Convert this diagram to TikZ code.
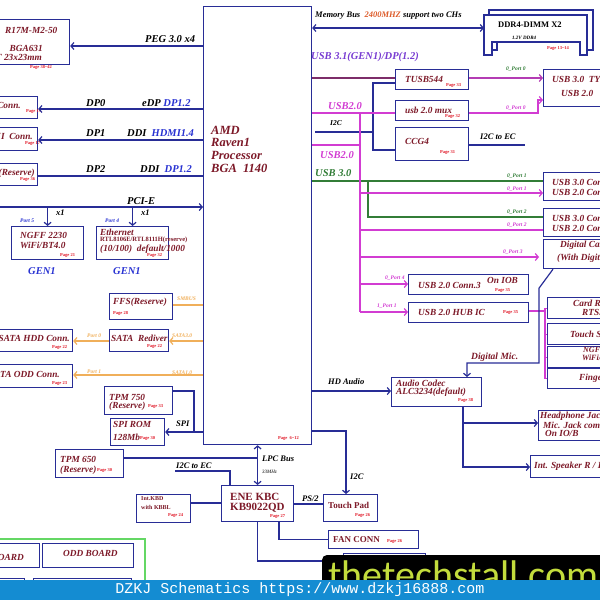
\documentclass[tikz,border=0pt]{standalone}
\usepackage{fontspec}
\setmainfont{Liberation Serif}
\newfontfamily\footfont{Liberation Mono}
\newfontfamily\logofont{Carlito}
\usetikzlibrary{positioning,arrows.meta}
\definecolor{navy}{RGB}{40,45,150}
\definecolor{boxtext}{RGB}{125,25,40}
\definecolor{pagered}{RGB}{225,25,40}
\definecolor{usbmag}{RGB}{210,60,210}
\definecolor{usbgreen}{RGB}{50,125,55}
\definecolor{sataorange}{RGB}{240,175,90}
\definecolor{labblue}{RGB}{40,50,210}
\definecolor{usbviolet}{RGB}{120,60,210}
\definecolor{tusbline}{RGB}{125,45,105}
\definecolor{tusbmag}{RGB}{180,60,180}
\definecolor{memred}{RGB}{220,90,40}
\definecolor{footblue}{RGB}{20,140,210}
\definecolor{logogreen}{RGB}{195,220,60}
\definecolor{boardgreen}{RGB}{100,215,100}

\begin{document}
\begin{tikzpicture}[x=1pt, y=-1pt,
  every node/.style={inner sep=0pt},
  blk/.style={draw=navy, line width=1.2pt, anchor=north west, fill=white},
  bt/.style={anchor=west, text=boxtext, font=\fontsize{9.3}{10}\selectfont\bfseries\itshape},
  bu/.style={anchor=west, text=boxtext, font=\fontsize{9}{10}\selectfont\bfseries},
  pg/.style={anchor=west, text=pagered, font=\fontsize{4.5}{5}\selectfont\bfseries},
  lab/.style={anchor=west, font=\fontsize{10.5}{11}\selectfont\bfseries\itshape},
  slab/.style={anchor=west, font=\fontsize{8.5}{9}\selectfont\bfseries\itshape},
  port/.style={anchor=west, font=\fontsize{5.5}{6}\selectfont\bfseries\itshape},
  bus/.style={draw=navy, line width=1.2pt},
  mag/.style={draw=usbmag, line width=1.2pt},
  grn/.style={draw=usbgreen, line width=1.2pt},
  sata/.style={draw=sataorange, line width=1.2pt},
  arr/.style={-{Straight Barb[length=3pt,width=7pt]}},
  darr/.style={{Straight Barb[length=3pt,width=7pt]}-{Straight Barb[length=3pt,width=7pt]}}]
\useasboundingbox (0,0) rectangle (600,600);

% processor
\node[blk, minimum width=108, minimum height=438] (cpu) at (203,6) {};
\node[bt, align=left, font=\fontsize{12.5}{12.7}\selectfont\bfseries\itshape] (cpuname) at (211,149) {AMD\\Raven1\\Processor\\BGA\ \ 1140};
\node[pg] (cpupg) at (278,439) {Page\ \ 6\textasciitilde12};

% graphics and display
\node[blk, minimum width=89, minimum height=45] (gpu) at (-20,19) {};
\node[bt] (gpuname) at (5,30) {R17M-M2-50};
\node[bt, anchor=east] (gpupkg) at (43,48) {BGA631};
\node[bt, anchor=east] (gpusize) at (42,57) {T 23x23mm};
\node[pg] (gpupg) at (30,67) {Page 38\textasciitilde42};
\node[blk, minimum width=57, minimum height=22] (edp) at (-20,96) {};
\node[bt, anchor=east] (edpname) at (21,105) {eDP Conn.};
\node[pg] (edppg) at (26,112) {Page 19};
\node[blk, minimum width=57, minimum height=23] (hdmi) at (-20,127) {};
\node[bt, anchor=east] (hdminame) at (33,136) {HDMI\ \ Conn.};
\node[pg] (hdmipg) at (25,144) {Page 17};
\node[blk, minimum width=57, minimum height=22] (dpres) at (-20,163) {};
\node[bt, anchor=east] (dpresname) at (35,173) {(Reserve)};
\node[pg] (dprespg) at (20,180) {Page 36};

\draw[bus,arr] (cpu.west |- 0,46) -- (gpu.east |- 0,46);
\draw[bus,arr] (cpu.west |- 0,109) -- (edp.east |- 0,109);
\draw[bus,arr] (cpu.west |- 0,140) -- (hdmi.east |- 0,140);
\draw[bus] (cpu.west |- 0,176) -- (dpres.east |- 0,176);
\node[lab] (peg) at (145,39) {PEG 3.0 x4};
\node[lab] (dp0) at (86,103) {DP0};
\node[lab] (edpbus) at (142,103) {eDP \textcolor{labblue}{DP1.2}};
\node[lab] (dp1) at (86,133) {DP1};
\node[lab] (ddia) at (127,133) {DDI\ \ \textcolor{labblue}{HDMI1.4}};
\node[lab] (dp2) at (86,169) {DP2};
\node[lab] (ddib) at (140,169) {DDI\ \ \textcolor{labblue}{DP1.2}};

% pci-e
\coordinate (pcie) at (0,207);
\node[blk, minimum width=72, minimum height=33] (ngff) at (11,226) {};
\node[blk, minimum width=72, minimum height=33] (lan) at (96,226) {};
\draw[bus,arr] (pcie) -- (pcie -| cpu.west);
\draw[bus,arr] (ngff.north |- pcie) -- (ngff.north);
\draw[bus,arr] (lan.north |- pcie) -- (lan.north);
\node[lab] (pcielab) at (127,201) {PCI-E};
\node[slab] (x1a) at (56,213) {x1};
\node[slab] (x1b) at (141,213) {x1};
\node[port, text=labblue] (port5) at (20,221) {Port 5};
\node[port, text=labblue] (port4) at (105,221) {Port 4};
\node[bt] (ngffname) at (20,235) {NGFF 2230};
\node[bt] (ngffwifi) at (20,245) {WiFi/BT4.0};
\node[pg] (ngffpg) at (60,256) {Page 21};
\node[bt] (lanname) at (100,232) {Ethernet};
\node[anchor=west, text=boxtext, font=\fontsize{6.5}{7}\selectfont\bfseries] (lanchip) at (100,240) {RTL8106E/RTL8111H(reserve)};
\node[bt] (lanspeed) at (100,249) {(10/100)\ \ default/1000};
\node[pg] (lanpg) at (147,256) {Page 32};
\node[lab, text=labblue] (gena) at (28,271) {GEN1};
\node[lab, text=labblue] (genb) at (113,271) {GEN1};

% smbus and sata
\node[blk, minimum width=63, minimum height=26] (ffs) at (109,293) {};
\node[bt] (ffsname) at (113,302) {FFS(Reserve)};
\node[pg] (ffspg) at (113,313) {Page 28};
\draw[sata] (ffs.east |- 0,305) -- (cpu.west |- 0,305);
\node[port, text=sataorange] (smbus) at (177,299) {SMBUS};
\node[blk, minimum width=59, minimum height=22] (redrv) at (109,329) {};
\node[bt] (redrvname) at (111,338) {SATA\ \ Rediver};
\node[pg] (redrvpg) at (147,347) {Page 22};
\node[blk, minimum width=92, minimum height=22] (hdd) at (-20,329) {};
\node[bt, anchor=east] (hddname) at (70,338) {SATA HDD Conn.};
\node[pg] (hddpg) at (52,348) {Page 22};
\node[blk, minimum width=92, minimum height=23] (odd) at (-20,364) {};
\node[bt, anchor=east] (oddname) at (60,374) {SATA ODD Conn.};
\node[pg] (oddpg) at (52,384) {Page 23};
\draw[sata,arr] (cpu.west |- 0,341) -- (redrv.east |- 0,341);
\draw[sata,arr] (redrv.west |- 0,341) -- (hdd.east |- 0,341);
\draw[sata,arr] (cpu.west |- 0,375) -- (odd.east |- 0,375);
\node[port, text=sataorange] (satathree) at (172,336) {SATA3.0};
\node[port, text=sataorange] (portzero) at (87,336) {Port 0};
\node[port, text=sataorange] (portone) at (87,372) {Port 1};
\node[port, text=sataorange] (sataone) at (172,373) {SATA1.0};

% spi and tpm
\node[blk, minimum width=68, minimum height=28] (tpma) at (104,386) {};
\node[bt] (tpmaname) at (109,397) {TPM 750};
\node[bt] (tpmares) at (109,406) {(Reserve)};
\node[pg] (tpmapg) at (148,407) {Page 33};
\node[blk, minimum width=54, minimum height=27] (spirom) at (110,418) {};
\node[bt] (spiname) at (113,424) {SPI ROM};
\node[bt] (spisize) at (113,437) {128Mb};
\node[pg] (spipg) at (140,438) {Page 30};
\draw[bus,arr] (cpu.west |- 0,432) -- (spirom.east |- 0,432);
\draw[bus] (tpma.east |- 0,391) -| (194,432);
\node[slab] (spilab) at (176,424) {SPI};
\node[blk, minimum width=68, minimum height=28] (tpmb) at (55,449) {};
\node[bt] (tpmbname) at (60,459) {TPM 650};
\node[bt] (tpmbres) at (60,470) {(Reserve)};
\node[pg] (tpmbpg) at (97,470) {Page 30};

% embedded controller
\node[blk, minimum width=72, minimum height=36] (kbc) at (221,485) {};
\node[bu, font=\fontsize{11}{11}\selectfont\bfseries] (kbcname) at (230,497) {ENE KBC};
\node[bu, font=\fontsize{11}{11}\selectfont\bfseries] (kbcchip) at (230,508) {KB9022QD};
\node[pg] (kbcpg) at (270,516) {Page 27};
\draw[bus,darr] (kbc.north |- cpu.south) -- (kbc.north);
\draw[bus] (tpmb.east |- 0,458) -- (kbc.north |- 0,458);
\node[slab] (lpc) at (262,459) {LPC Bus};
\node[port, font=\fontsize{5}{5}\selectfont\itshape] (lpcclk) at (262,472) {33MHz};
\coordinate (kbcec) at (175,471);
\draw[bus] (kbcec) -| (kbc.north -| 230,0);
\node[slab] (kbceclab) at (176,466) {I2C to EC};
\node[blk, minimum width=54, minimum height=28] (kbd) at (136,494) {};
\node[bu, font=\fontsize{6}{6}\selectfont\bfseries] (kbdname) at (141,499) {Int.KBD};
\node[bu, font=\fontsize{6}{6}\selectfont\bfseries] (kbdlight) at (141,507) {with KBBL};
\node[pg] (kbdpg) at (168,515) {Page 24};
\draw[bus] (kbd.east |- 0,503) -- (kbc.west |- 0,503);
\node[blk, minimum width=54, minimum height=27] (tpad) at (323,494) {};
\node[bu] (tpadname) at (328,505) {Touch Pad};
\node[pg] (tpadpg) at (355,515) {Page 26};
\draw[bus] (kbc.east |- 0,504) -- (tpad.west |- 0,504);
\node[slab] (ps2) at (302,499) {PS/2};
\draw[bus,arr] (cpu.east |- 0,431) -| (tpad.north -| 346,0);
\node[slab] (i2ctp) at (350,477) {I2C};
\node[blk, minimum width=90, minimum height=18] (fan) at (328,530) {};
\node[bu] (fanname) at (333,540) {FAN CONN};
\node[pg] (fanpg) at (387,541) {Page 26};
\draw[bus] (kbc.south -| 279,0) |- (fan.west);
\node[blk, minimum width=82, minimum height=40] (kbcmore) at (343,553) {};
\draw[bus] (kbc.south) |- (kbcmore.west |- 0,561);

% boards
\draw[boardgreen, line width=1.5pt] (-10,539) rectangle (145,620);
\node[blk, minimum width=59, minimum height=24] (ioboard) at (-20,543) {};
\node[bt, anchor=east] (ioboardname) at (24,557) {IO BOARD};
\node[blk, minimum width=91, minimum height=24] (oddboard) at (42,543) {};
\node[bt] (oddboardname) at (63,553) {ODD BOARD};
\node[blk, minimum width=44, minimum height=25] (boarda) at (-20,578) {};
\node[blk, minimum width=98, minimum height=25] (boardb) at (33,578) {};

% memory
\node[anchor=north west, minimum width=103, minimum height=40] (dimm) at (484,15) {};
\draw[bus, fill=white] (489,10) -- (593,10) -- (593,50) -- (585,50) -- (585,37) -- (497,37) -- (497,50) -- (489,50) -- cycle;
\draw[bus, fill=white] (484,15) -- (587,15) -- (587,55) -- (580,55) -- (580,42) -- (492,42) -- (492,55) -- (484,55) -- cycle;
\node[anchor=west, font=\fontsize{8.5}{9}\selectfont\bfseries] (dimmname) at (498,25) {DDR4-DIMM X2};
\node[anchor=west, font=\fontsize{5}{5}\selectfont\bfseries\itshape] (dimmvolt) at (512,38) {1.2V DDR4};
\node[pg] (dimmpg) at (547,49) {Page 13\textasciitilde14};
\draw[bus,darr] (cpu.east |- 0,28) -- (dimm.west |- 0,28);
\node[anchor=west, font=\fontsize{8.5}{9}\selectfont\bfseries\itshape] (membus) at (315,16) {Memory Bus\ \ \textcolor{memred}{2400MHZ} support two CHs};

% type-c
\node[lab, text=usbviolet] (usbtc) at (311,57) {USB 3.1(GEN1)/DP(1.2)};
\node[blk, minimum width=73, minimum height=20] (tusb) at (395,69) {};
\node[bt] (tusbname) at (405,79) {TUSB544};
\node[pg] (tusbpg) at (446,86) {Page 33};
\node[blk, minimum width=73, minimum height=20] (mux) at (395,100) {};
\node[bt] (muxname) at (405,110) {usb 2.0 mux};
\node[pg] (muxpg) at (445,117) {Page 32};
\node[blk, minimum width=73, minimum height=33] (ccg) at (395,127) {};
\node[bt] (ccgname) at (405,141) {CCG4};
\node[pg] (ccgpg) at (440,153) {Page 31};
\node[blk, minimum width=70, minimum height=37] (typec) at (543,69) {};
\node[bt] (typecname) at (552,79) {USB 3.0\ \ TYPE-C};
\node[bt] (typectwo) at (561,93) {USB 2.0};
\draw[tusbline, line width=1.2pt] (cpu.east |- 0,78) -- (tusb.west |- 0,78);
\draw[bus] (tusb.west |- 0,83) -| (373,150) -- (ccg.west |- 0,150);
\coordinate (i2cpd) at (315,132);
\draw[bus] (i2cpd) -- (373,132);
\node[anchor=west, font=\fontsize{7.5}{8}\selectfont\bfseries\itshape] (i2cpdlab) at (330,123) {I2C};
\draw[bus] (ccg.east |- 0,145) -- (525,145);
\node[slab] (ccgec) at (480,137) {I2C to EC};
\draw[tusbmag, line width=1.2pt, arr] (tusb.east |- 0,78) -- (typec.west |- 0,78);
\node[port, text=usbgreen] (tcporta) at (506,69) {0\_Port 0};
\draw[mag] (cpu.east |- 0,113) -- (mux.west |- 0,113);
\node[lab, text=usbmag] (usbtwoa) at (328,106) {USB2.0};
\draw[mag,arr] (mux.east |- 0,113) -| (538,100) -- (typec.west |- 0,100);
\node[port, text=usbmag] (tcportb) at (506,108) {0\_Port 0};

% usb ports
\node[blk, minimum width=70, minimum height=28] (cona) at (543,172) {};
\node[bt] (conausb3) at (552,182) {USB 3.0 Conn.};
\node[bt] (conausb2) at (552,192) {USB 2.0 Conn.};
\node[blk, minimum width=70, minimum height=28] (conb) at (543,208) {};
\node[bt] (conbusb3) at (552,218) {USB 3.0 Conn.};
\node[bt] (conbusb2) at (552,228) {USB 2.0 Conn.};
\node[blk, minimum width=70, minimum height=29] (cam) at (543,239) {};
\node[bt] (camname) at (560,245) {Digital Camera};
\node[bt] (cammic) at (557,258) {(With Digital Mic.)};
\node[blk, minimum width=120, minimum height=20] (iob) at (408,274) {};
\node[bt] (iobname) at (418,285) {USB 2.0 Conn.3};
\node[bt] (iobwhere) at (487,280) {On IOB};
\node[pg] (iobpg) at (495,291) {Page 35};
\node[blk, minimum width=120, minimum height=20] (hub) at (408,302) {};
\node[bt] (hubname) at (418,312) {USB 2.0 HUB IC};
\node[pg] (hubpg) at (503,313) {Page 35};

\draw[grn] (cpu.east |- 0,181) -- (cona.west |- 0,181);
\node[lab, text=usbgreen] (usbthree) at (315,173) {USB 3.0};
\draw[grn] (368,181) |- (conb.west |- 0,217);
\draw[mag] (360,113) -- (360,312);
\draw[mag] (cpu.east |- 0,145) -- (360,145);
\node[lab, text=usbmag] (usbtwob) at (320,155) {USB2.0};
\draw[mag,arr] (360,193) -- (cona.west |- 0,193);
\draw[mag] (360,230) -- (conb.west |- 0,230);
\draw[mag,arr,shorten >=4pt] (360,257) -- (cam.west |- 0,257);
\draw[mag,arr] (360,284) -- (iob.west |- 0,284);
\draw[mag,arr] (360,312) -- (hub.west |- 0,312);
\node[port, text=usbgreen] (portonea) at (507,176) {0\_Port 1};
\node[port, text=usbmag] (portoneb) at (507,189) {0\_Port 1};
\node[port, text=usbgreen] (porttwoa) at (507,212) {0\_Port 2};
\node[port, text=usbmag] (porttwob) at (507,225) {0\_Port 2};
\node[port, text=usbmag] (portthree) at (503,252) {0\_Port 3};
\node[port, text=usbmag] (portfour) at (385,278) {0\_Port 4};
\node[port, text=usbmag] (porthub) at (377,306) {1\_Port 1};

% hub devices
\node[blk, minimum width=70, minimum height=21] (card) at (547,297) {};
\node[bt] (cardname) at (573,303) {Card Reader};
\node[bt] (cardchip) at (582,312) {RTS5129};
\node[blk, minimum width=70, minimum height=21] (tscr) at (547,323) {};
\node[bt] (tscrname) at (570,334) {Touch Screen};
\node[blk, minimum width=70, minimum height=21] (bt) at (547,346) {};
\node[bt, font=\fontsize{8}{8}\selectfont\bfseries\itshape] (btname) at (583,350) {NGFF};
\node[bt, font=\fontsize{8}{8}\selectfont\bfseries\itshape] (btwifi) at (582,358) {WiFi/BT};
\node[blk, minimum width=70, minimum height=20] (fprint) at (547,368) {};
\node[bt] (fprintname) at (579,378) {Finger Print};
\draw[mag] (hub.east |- 0,311) -- (545,311);
\draw[mag] (545,0 |- card.west) -- (545,0 |- fprint.west);
\foreach \dev in {card,tscr,bt,fprint}
  \draw[mag] (545,0 |- \dev.west) -- (\dev.west);

% audio
\node[blk, minimum width=90, minimum height=29] (codec) at (391,377) {};
\node[bt] (codecname) at (396,383) {Audio Codec};
\node[bt] (codecchip) at (396,392) {ALC3234(default)};
\node[pg] (codecpg) at (458,400) {Page 38};
\node[blk, minimum width=70, minimum height=30] (hp) at (538,410) {};
\node[bt] (hpname) at (540,416) {Headphone Jack};
\node[bt] (hpmic) at (543,425) {Mic. Jack combo};
\node[bt] (hpwhere) at (545,433) {On IO/B};
\node[blk, minimum width=75, minimum height=22] (spk) at (530,455) {};
\node[bt] (spkname) at (534,466) {Int. Speaker R / L};
\draw[bus,arr] (cpu.east |- 0,391) -- (codec.west |- 0,391);
\node[slab] (hda) at (328,382) {HD Audio};
\draw[bus,arr] (codec.south -| 463,0) |- (spk.west |- 0,467);
\draw[bus,arr] (463,423) -- (hp.west |- 0,423);
\draw[bus,arr] (cam.south west) ++(10,0) -- ++(-14,19) |- (467,363) -- (codec.north -| 467,0);
\node[anchor=west, font=\fontsize{9.5}{10}\selectfont\bfseries\itshape, text=boxtext] (dmic) at (471,357) {Digital Mic.};

% banner
\fill[black, rounded corners=5pt] (322,555) rectangle (620,595);
\node[anchor=base west, text=logogreen, font=\logofont\fontsize{40}{40}\selectfont] (logo) at (328,588) {thetechstall.com};
\fill[footblue] (0,580) rectangle (600,600);
\node[text=white, font=\footfont\fontsize{15}{15}\selectfont] (foot) at (300,590) {DZKJ Schematics https://www.dzkj16888.com};
\end{tikzpicture}
\end{document}
